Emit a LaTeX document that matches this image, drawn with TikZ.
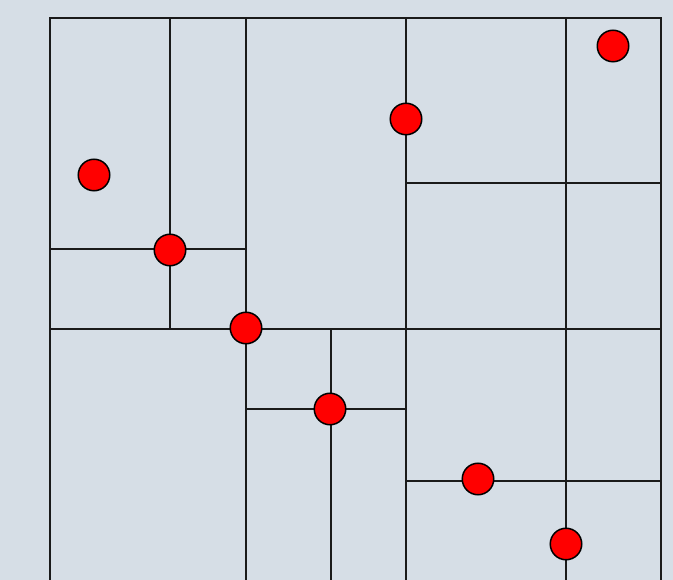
\documentclass[tikz,border=0pt]{standalone}
\usepackage{tikz}
\usepackage{xcolor}
\definecolor{paneblue}{HTML}{D6DEE6}
\definecolor{splitline}{HTML}{1A1A1A}

\begin{document}
\begin{tikzpicture}[x=1pt,y=-1pt,
  splitedge/.style={draw=splitline,line width=1.3pt},
  kdpoint/.style={circle,draw=black,fill=red,line width=1.5pt,minimum size=31.5pt,inner sep=0pt}]
\fill[paneblue] (0,0) rectangle (673,580);
\useasboundingbox (0,0) rectangle (673,580);
% outer cell, open at the bottom
\draw[splitedge] (50,590)--(50,18)--(661,18)--(661,590);
% vertical splits
\foreach \x/\ya/\yb in {246/18/590,170/18/329,406/18/590,566/18/590,331/329/590}
  \draw[splitedge] (\x,\ya)--(\x,\yb);
% horizontal splits
\foreach \y/\xa/\xb in {329/50/661,249/50/246,183/406/661,409/246/406,481/406/661}
  \draw[splitedge] (\xa,\y)--(\xb,\y);
% sample points
\foreach \n/\px/\py in {p1/94/175,p2/170/250,p3/246/328,p4/406/119,p5/613/46,p6/330/409,p7/478/479,p8/566/544}
  \node[kdpoint] (\n) at (\px,\py) {};
\end{tikzpicture}
\end{document}
